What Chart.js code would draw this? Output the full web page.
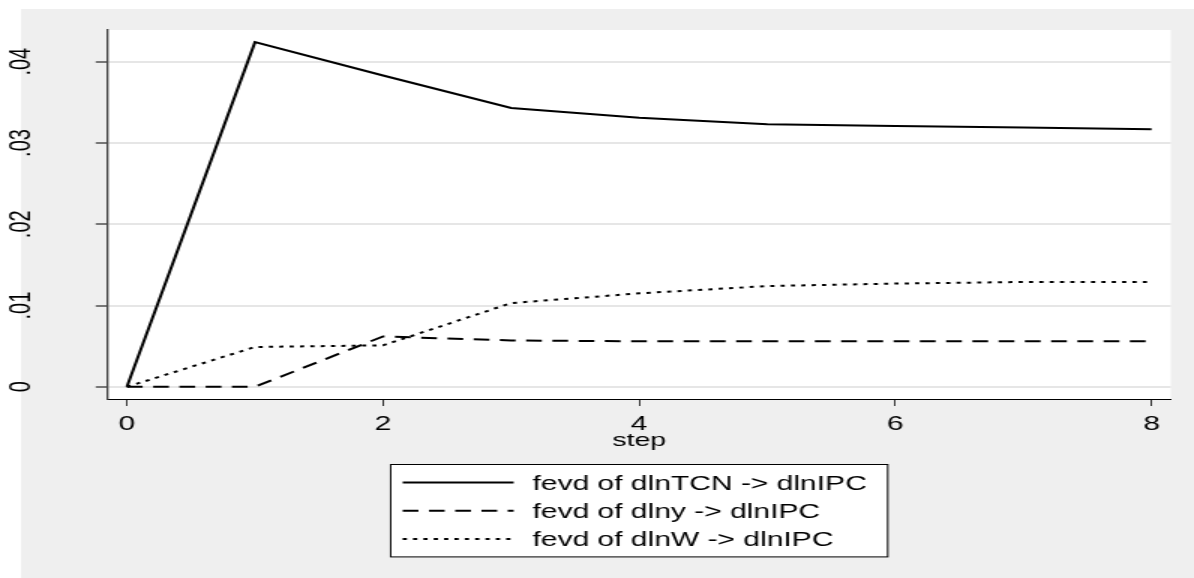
<!DOCTYPE html>
<html>
<head>
<meta charset="utf-8">
<title>fevd -> dlnIPC</title>
<script src="https://cdn.jsdelivr.net/npm/chart.js@4.4.1/dist/chart.umd.min.js"></script>
<style>
  html, body { margin: 0; padding: 0; background: #fff; overflow: hidden; }
  /* the reference is a Stata graph stretched sideways, so draw narrow and stretch */
  #wrap { width: 796px; height: 578px; transform: scaleX(1.5); transform-origin: 0 0; }
</style>
</head>
<body>
<div id="wrap"><canvas id="fevdChart" width="796" height="578"></canvas></div>
<script>
// data
const steps = [0, 1, 2, 3, 4, 5, 6, 7, 8];
const fevdTCN = [0, 0.0424, 0.0383, 0.0343, 0.0331, 0.0323, 0.0321, 0.0319, 0.0317];
const fevdY = [0, 0, 0.0062, 0.0057, 0.0056, 0.0056, 0.0056, 0.0056, 0.0056];
const fevdW = [0, 0.0049, 0.0051, 0.0103, 0.0115, 0.0124, 0.0127, 0.0129, 0.0129];
const seriesLabels = ["fevd of dlnTCN -> dlnIPC", "fevd of dlny -> dlnIPC", "fevd of dlnW -> dlnIPC"];
const xTicks = [0, 2, 4, 6, 8];
const yTicks = [0, 0.01, 0.02, 0.03, 0.04];
const yTickLabels = ["0", ".01", ".02", ".03", ".04"];
const xTitle = "step";

const FONT = '"Liberation Sans", Arial, Helvetica, sans-serif';
Chart.defaults.font.family = FONT;
Chart.defaults.color = "#000";

function toPoints(vals) {
    return steps.map((s, i) => ({ x: s, y: vals[i] }));
}

// grey graph region + white plot region
const backdrop = {
    id: "backdrop",
    beforeDraw(chart) {
        const { ctx, width, height, chartArea: a } = chart;
        ctx.save();
        ctx.fillStyle = "#fff";
        ctx.fillRect(0, 0, width, height);
        ctx.fillStyle = "#efefef";
        ctx.fillRect(14, 9, width - 14, height - 9);
        ctx.fillStyle = "#fff";
        ctx.fillRect(a.left, a.top, a.right - a.left, a.bottom - a.top);
        ctx.restore();
    }
};

// y labels read bottom to top, centred on the tick (Stata vertical labels)
const verticalYLabels = {
    id: "verticalYLabels",
    afterDraw(chart) {
        const { ctx } = chart;
        const y = chart.scales.y;
        ctx.save();
        ctx.font = "20px " + FONT;
        ctx.fillStyle = "#000";
        ctx.textAlign = "center";
        ctx.textBaseline = "middle";
        yTicks.forEach((v, i) => {
            ctx.save();
            ctx.translate(y.right - 57, y.getPixelForValue(v));
            ctx.rotate(-Math.PI / 2);
            ctx.fillText(yTickLabels[i], 0, 0);
            ctx.restore();
        });
        ctx.restore();
    }
};

// Stata style legend: one key per row inside a framed box
const boxLegend = {
    id: "boxLegend",
    afterDraw(chart) {
        const { ctx, chartArea: a } = chart;
        const sets = chart.data.datasets;
        ctx.save();
        ctx.font = "20px " + FONT;
        const textW = Math.max(...sets.map(d => ctx.measureText(d.label).width));
        const padL = 8, sampleW = 74, gap = 12.5, padR = 14, rowGap = 28.2, padV = 18;
        const w = padL + sampleW + gap + textW + padR;
        const h = padV * 2 + rowGap * (sets.length - 1);
        const left = (a.left + a.right) / 2 - w / 2;
        const top = chart.scales.x.bottom + 12;
        ctx.fillStyle = "#fff";
        ctx.fillRect(left, top, w, h);
        ctx.strokeStyle = "#000";
        ctx.lineWidth = 1;
        ctx.strokeRect(left, top, w, h);
        sets.forEach((d, i) => {
            const y = top + padV + i * rowGap;
            ctx.beginPath();
            ctx.setLineDash(d.borderDash || []);
            ctx.lineWidth = d.borderWidth;
            ctx.strokeStyle = d.borderColor;
            ctx.moveTo(left + padL, y);
            ctx.lineTo(left + padL + sampleW, y);
            ctx.stroke();
            ctx.setLineDash([]);
            ctx.fillStyle = "#000";
            ctx.textBaseline = "alphabetic";
            ctx.fillText(d.label, left + padL + sampleW + gap, y + 7.2);
        });
        ctx.restore();
    }
};

const ctx = document.getElementById("fevdChart").getContext("2d");
new Chart(ctx, {
    type: "line",
    data: {
        datasets: [
            { label: seriesLabels[0], data: toPoints(fevdTCN), borderColor: "#000", borderWidth: 2, borderDash: [] },
            { label: seriesLabels[1], data: toPoints(fevdY), borderColor: "#000", borderWidth: 2, borderDash: [10.5, 7] },
            { label: seriesLabels[2], data: toPoints(fevdW), borderColor: "#000", borderWidth: 2, borderDash: [2.8, 4.1] }
        ]
    },
    options: {
        responsive: false,
        animation: false,
        devicePixelRatio: 1,
        layout: { padding: { left: 0, right: 15.5, top: 30, bottom: 125.5 } },
        elements: {
            point: { radius: 0, hoverRadius: 0 },
            line: { tension: 0, fill: false }
        },
        plugins: {
            legend: { display: false },
            tooltip: { enabled: false }
        },
        scales: {
            x: {
                type: "linear",
                min: -0.15,
                max: 8.15,
                afterBuildTicks: scale => { scale.ticks = xTicks.map(v => ({ value: v })); },
                afterFit: scale => { scale.height = 53.5; scale.paddingLeft = 0; scale.paddingRight = 0; },
                ticks: {
                    autoSkip: false,
                    maxRotation: 0,
                    padding: 6,
                    font: { size: 20 },
                    color: "#000",
                    callback: v => String(v)
                },
                grid: { drawOnChartArea: false, tickLength: 7, tickColor: "#333", tickWidth: 1 },
                border: { color: "#000", width: 1 },
                title: { display: true, text: xTitle, font: { size: 19 }, color: "#000", padding: 0 }
            },
            y: {
                min: -0.0015,
                max: 0.0439,
                afterBuildTicks: scale => { scale.ticks = yTicks.map(v => ({ value: v })); },
                afterFit: scale => { scale.width = 71.8; scale.paddingTop = 0; scale.paddingBottom = 0; },
                ticks: { display: false },
                grid: { color: "#e6e6e6", lineWidth: 2, tickLength: 8, tickColor: "#444", tickWidth: 1.4 },
                border: { color: "#444", width: 1.35 }
            }
        }
    },
    plugins: [backdrop, verticalYLabels, boxLegend]
});
</script>
</body>
</html>
